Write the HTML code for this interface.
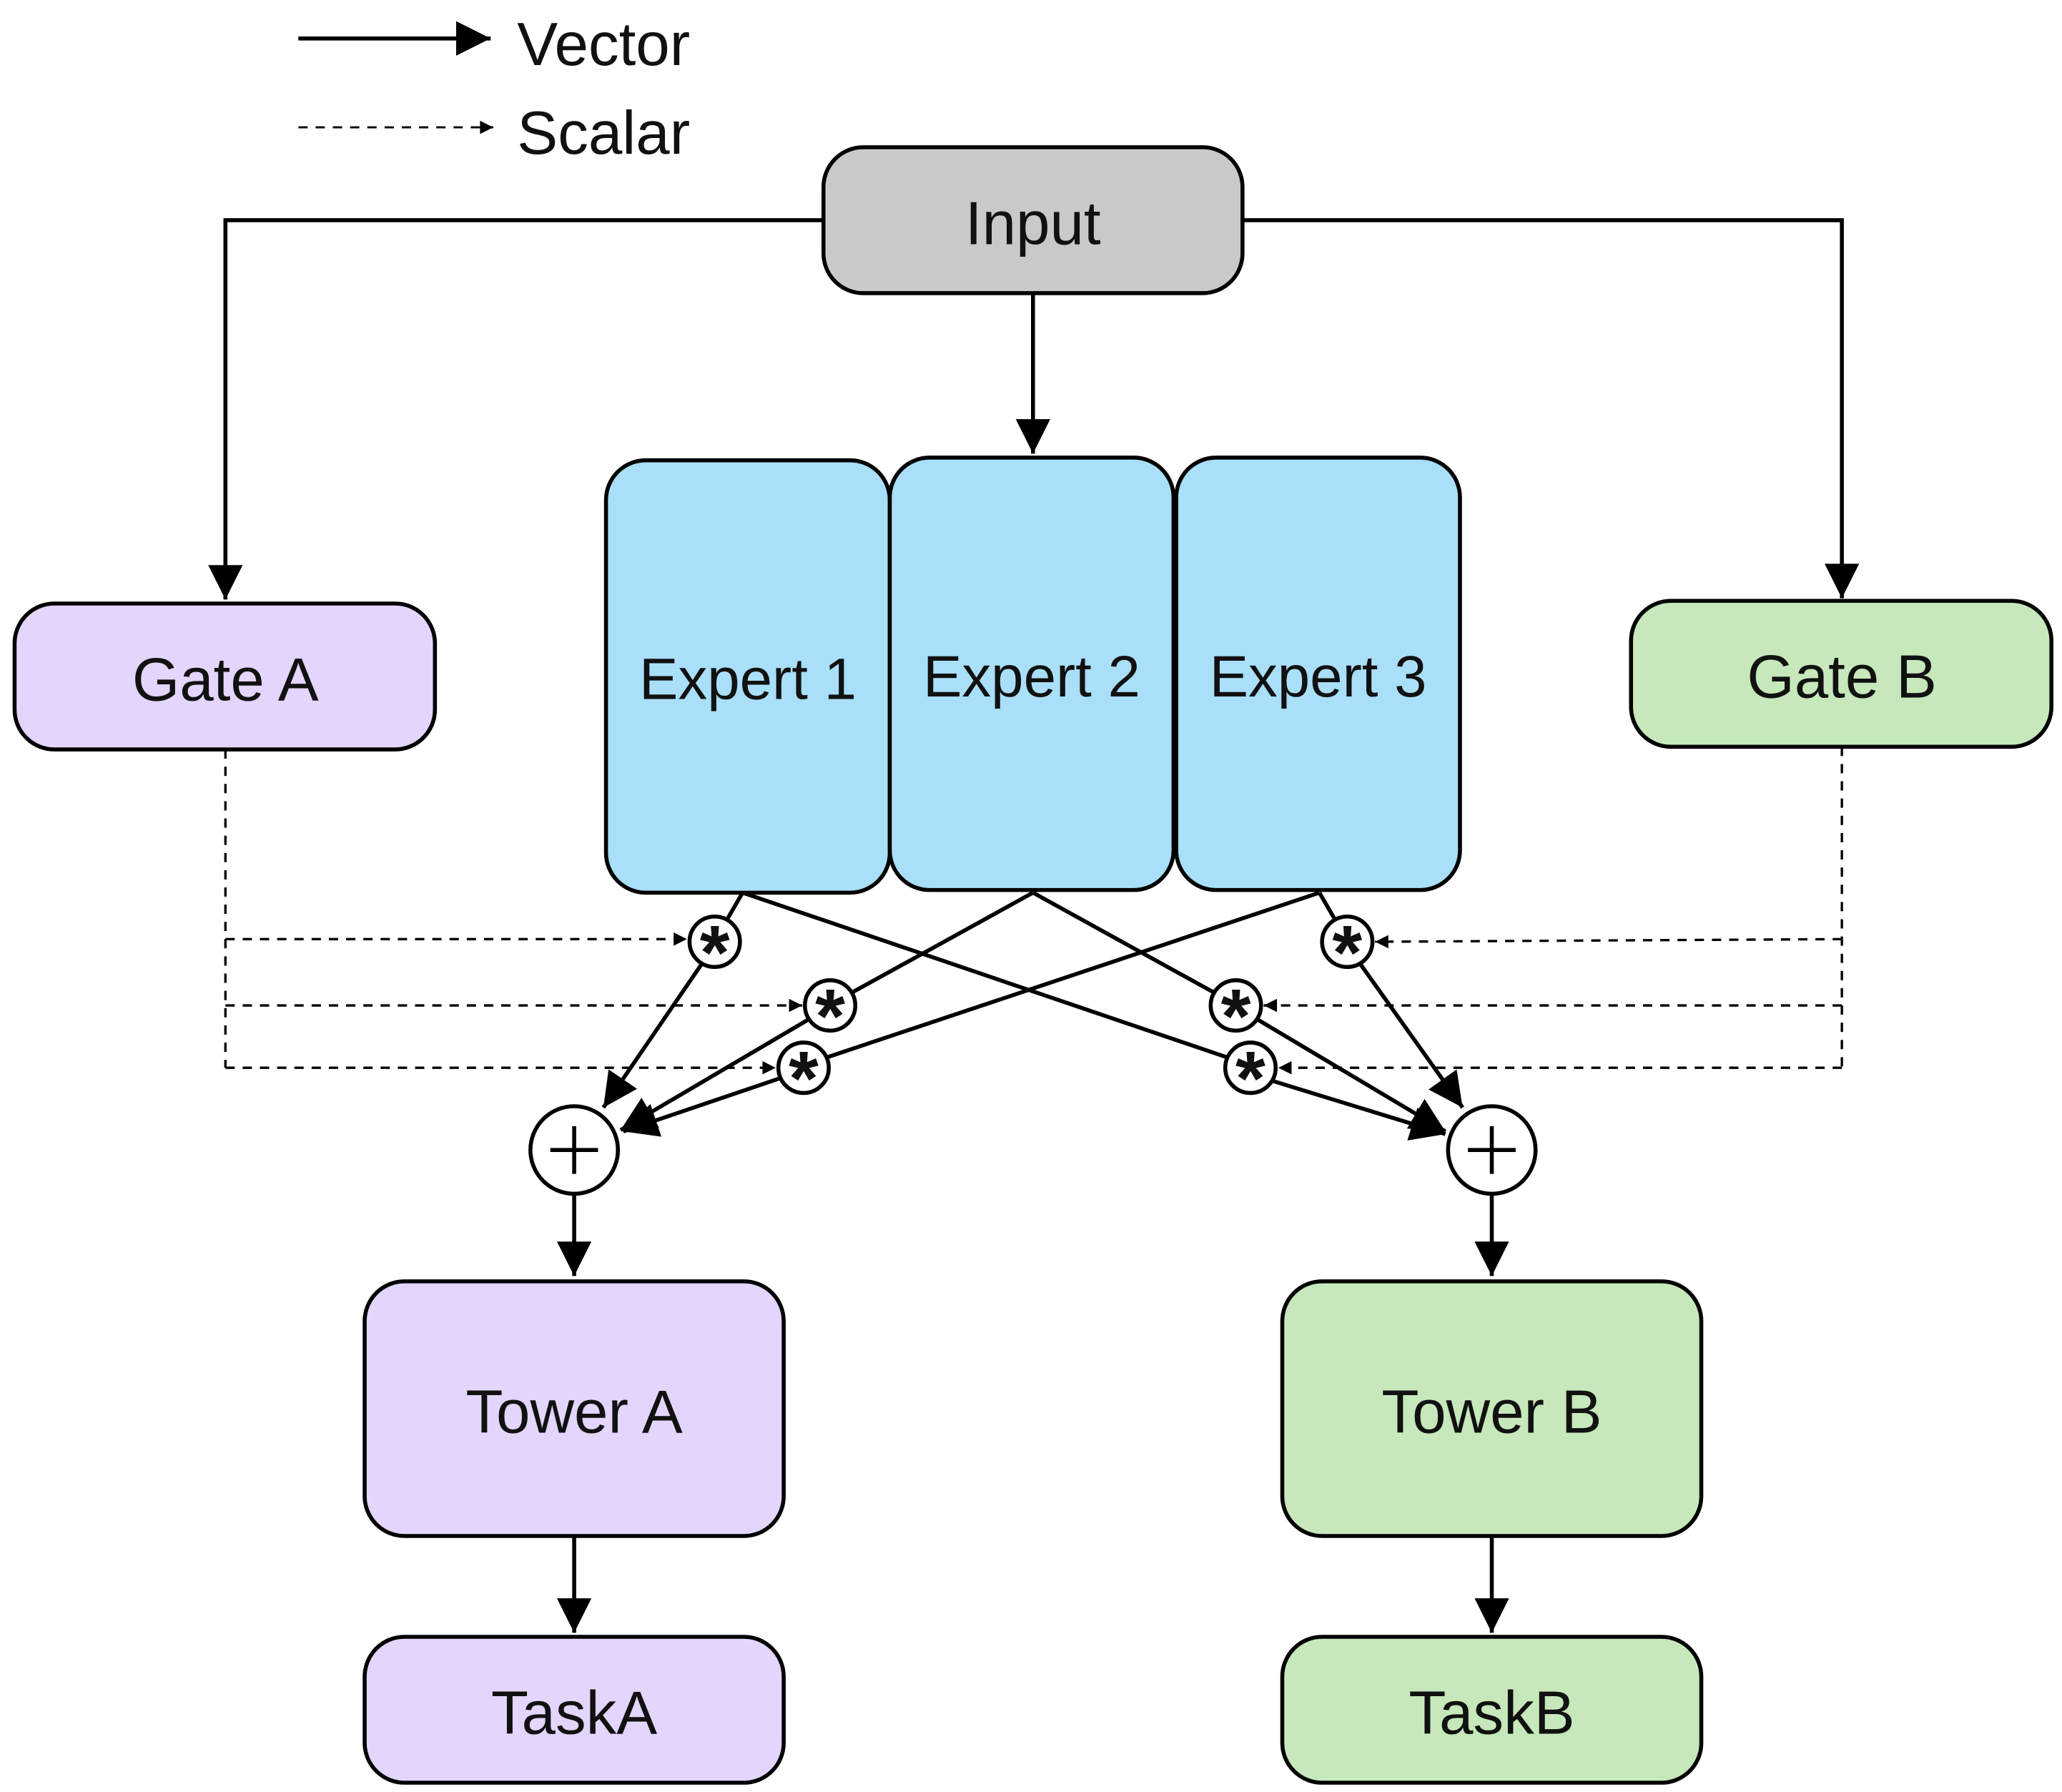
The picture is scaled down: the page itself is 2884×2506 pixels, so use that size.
<!DOCTYPE html>
<html><head><meta charset="utf-8"><style>
html,body{margin:0;padding:0;background:#fff;}
svg{display:block;}
text{font-family:"Liberation Sans",sans-serif;fill:#111;}
</style></head><body>
<svg width="2884" height="2506" viewBox="0 0 1555 1351" preserveAspectRatio="none" xmlns="http://www.w3.org/2000/svg">
<defs>
<marker id="A" viewBox="0 0 10 10" refX="10" refY="5" markerWidth="30" markerHeight="26" orient="auto" markerUnits="userSpaceOnUse"><path d="M0,0 L10,5 L0,10z" fill="#000"/></marker>
<marker id="s" viewBox="0 0 10 10" refX="10" refY="5" markerWidth="12" markerHeight="10" orient="auto" markerUnits="userSpaceOnUse"><path d="M0,0 L10,5 L0,10z" fill="#000"/></marker>
</defs>
<g stroke="#000" stroke-width="3" fill="none">
<line x1="225" y1="29" x2="370" y2="29" marker-end="url(#A)"/>
<line x1="225" y1="96" x2="372" y2="96" stroke-width="1.6" stroke-dasharray="7,6" marker-end="url(#s)"/>
<polyline points="621,166 170,166 170,452" marker-end="url(#A)"/>
<polyline points="937,166 1389,166 1389,451" marker-end="url(#A)"/>
<line x1="779" y1="221" x2="779" y2="342" marker-end="url(#A)"/>
<g stroke-width="1.8" stroke-dasharray="7,6">
<line x1="170" y1="565" x2="170" y2="805"/>
<line x1="170" y1="708" x2="518" y2="708" marker-end="url(#s)"/>
<line x1="170" y1="758" x2="605" y2="758" marker-end="url(#s)"/>
<line x1="170" y1="805" x2="585" y2="805" marker-end="url(#s)"/>
<line x1="1389" y1="563" x2="1389" y2="805"/>
<line x1="1389" y1="708" x2="1037" y2="710" marker-end="url(#s)"/>
<line x1="1389" y1="758" x2="953" y2="758" marker-end="url(#s)"/>
<line x1="1389" y1="805" x2="964" y2="805" marker-end="url(#s)"/>
</g>
<line x1="560" y1="673" x2="549" y2="692"/>
<line x1="529" y1="727" x2="455" y2="835" marker-end="url(#A)"/>
<line x1="560" y1="673" x2="925" y2="797"/>
<line x1="960" y1="815" x2="1090" y2="855" marker-end="url(#A)"/>
<line x1="779" y1="673" x2="643" y2="748"/>
<line x1="609" y1="769" x2="468" y2="852" marker-end="url(#A)"/>
<line x1="779" y1="673" x2="915" y2="748"/>
<line x1="949" y1="769" x2="1090" y2="853" marker-end="url(#A)"/>
<line x1="995" y1="673" x2="624" y2="797"/>
<line x1="588" y1="813" x2="470" y2="853" marker-end="url(#A)"/>
<line x1="995" y1="673" x2="1006" y2="692"/>
<line x1="1026" y1="727" x2="1103" y2="835" marker-end="url(#A)"/>
<line x1="433" y1="900" x2="433" y2="962" marker-end="url(#A)"/>
<line x1="1125" y1="900" x2="1125" y2="962" marker-end="url(#A)"/>
<line x1="433" y1="1158" x2="433" y2="1231" marker-end="url(#A)"/>
<line x1="1125" y1="1158" x2="1125" y2="1231" marker-end="url(#A)"/>
<rect x="621" y="111" width="316" height="110" rx="30" fill="#c9c9c9"/>
<rect x="457" y="347" width="214" height="326" rx="30" fill="#a9dff8"/>
<rect x="671" y="345" width="214" height="326" rx="30" fill="#a9dff8"/>
<rect x="887" y="345" width="214" height="326" rx="30" fill="#a9dff8"/>
<rect x="11" y="455" width="317" height="110" rx="30" fill="#e3d5fb"/>
<rect x="1230" y="453" width="317" height="110" rx="30" fill="#c6e8bb"/>
<rect x="275" y="966" width="316" height="192" rx="30" fill="#e3d5fb"/>
<rect x="967" y="966" width="316" height="192" rx="30" fill="#c6e8bb"/>
<rect x="275" y="1234" width="316" height="110" rx="30" fill="#e3d5fb"/>
<rect x="967" y="1234" width="316" height="110" rx="30" fill="#c6e8bb"/>
<circle cx="433" cy="867" r="33" fill="#fff"/>
<circle cx="1125" cy="867" r="33" fill="#fff"/>
<g fill="#fff">
<circle cx="539" cy="710" r="19"/><circle cx="626" cy="758" r="19"/><circle cx="606" cy="805" r="19"/>
<circle cx="1016" cy="710" r="19"/><circle cx="932" cy="758" r="19"/><circle cx="943" cy="805" r="19"/>
</g>
</g>
<g stroke="#000" stroke-width="3">
<line x1="415" y1="867" x2="451" y2="867"/><line x1="433" y1="849" x2="433" y2="885"/>
<line x1="1107" y1="867" x2="1143" y2="867"/><line x1="1125" y1="849" x2="1125" y2="885"/>
</g>
<g font-size="58" font-weight="bold" text-anchor="middle">
<text x="539" y="738">*</text><text x="626" y="786">*</text><text x="606" y="833">*</text>
<text x="1016" y="738">*</text><text x="932" y="786">*</text><text x="943" y="833">*</text>
</g>
<g font-size="46">
<text x="390" y="49">Vector</text>
<text x="390" y="116">Scalar</text>
</g>
<g font-size="46" text-anchor="middle">
<text x="779" y="184">Input</text>
<text x="170" y="528">Gate A</text>
<text x="1389" y="526">Gate B</text>
<text x="564" y="527" font-size="44">Expert 1</text>
<text x="778" y="525" font-size="44">Expert 2</text>
<text x="994" y="525" font-size="44">Expert 3</text>
<text x="433" y="1080">Tower A</text>
<text x="1125" y="1080">Tower B</text>
<text x="433" y="1307">TaskA</text>
<text x="1125" y="1307">TaskB</text>
</g>
</svg>
</body></html>
